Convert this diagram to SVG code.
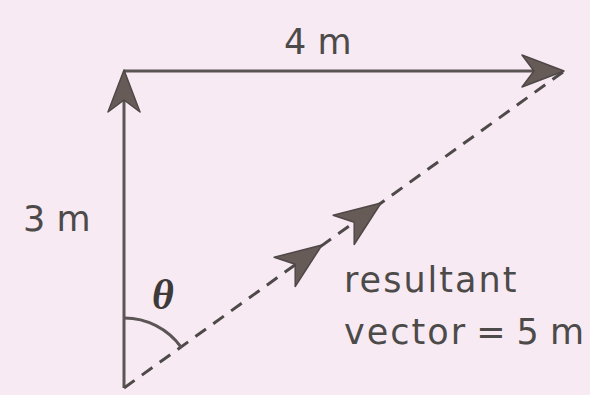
<svg xmlns="http://www.w3.org/2000/svg" width="590" height="395" viewBox="0 0 590 395">
<defs>
<style>
.bg{fill:#f8eaf2}
.ln{stroke:#5b5555;stroke-width:3;fill:none}
.dash{stroke:#4f4a4a;stroke-width:3;fill:none;stroke-dasharray:13 9}
.ah{fill:#665b56;stroke:#4f4848;stroke-width:1.5;stroke-linejoin:round}
.lbl{font-family:"DejaVu Sans",sans-serif;font-size:35px;fill:#4d4a4a;letter-spacing:2px;word-spacing:-4px}
.th{font-family:"Liberation Serif",serif;font-style:italic;font-weight:bold;font-size:42px;fill:#3e3a3a}
</style>
<path id="head" d="M0,0 L-42,-16 L-30,0 L-42,16 Z"/>
<path id="head2" d="M0,0 L-46,-18 L-33,0 L-46,18 Z"/>
</defs>
<rect class="bg" x="0" y="0" width="590" height="395"/>
<g id="connectors">
<line class="ln" x1="124" y1="388" x2="124" y2="78"/>
<line class="ln" x1="124" y1="71" x2="555" y2="71"/>
<line class="dash" x1="124" y1="388" x2="563" y2="72"/>
<path class="ln" d="M124,318 A70,70 0 0 1 181,347"/>
<use href="#head" class="ah" transform="translate(124,70) rotate(-90)"/>
<use href="#head" class="ah" transform="translate(564,71)"/>
<use href="#head2" class="ah" transform="translate(322,245) rotate(-35.75)"/>
<use href="#head2" class="ah" transform="translate(381,203) rotate(-35.75)"/>
</g>
<g id="label-4m"><text class="lbl" x="284" y="54">4 m</text></g>
<g id="label-3m"><text class="lbl" x="23" y="231">3 m</text></g>
<g id="label-theta"><text class="th" x="152" y="309">θ</text></g>
<g id="label-resultant">
<text class="lbl" x="344" y="292">resultant</text>
<text class="lbl" x="344" y="344">vector = 5 m</text>
</g>
</svg>
